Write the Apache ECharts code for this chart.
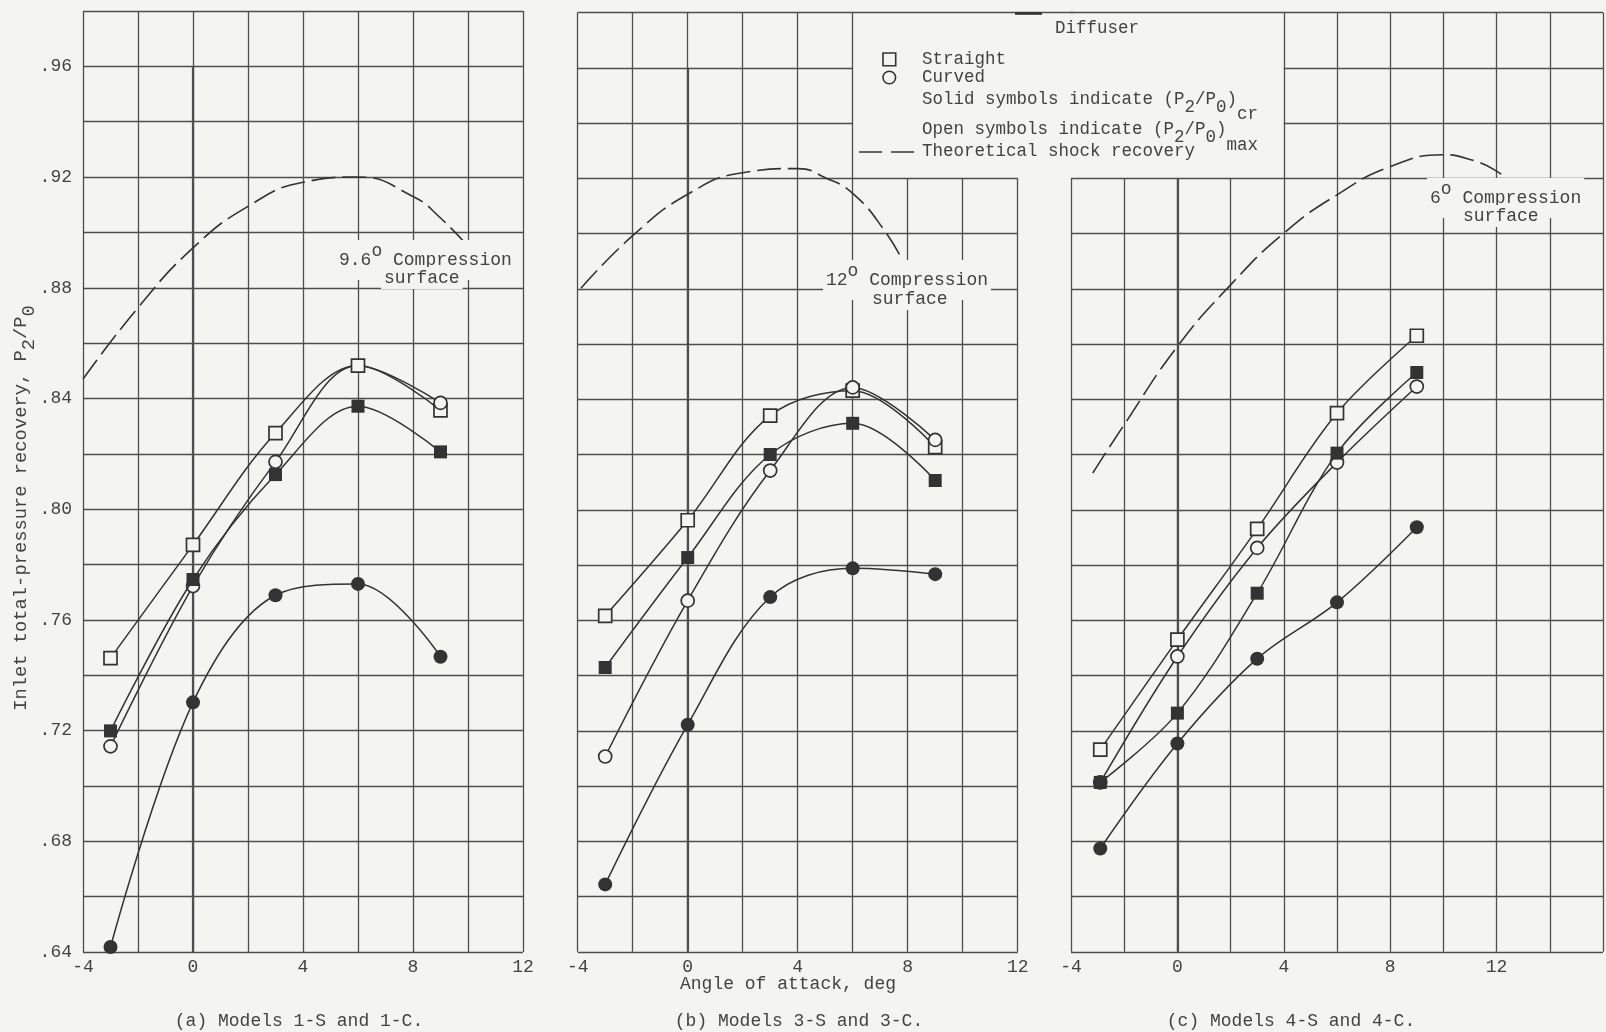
<!DOCTYPE html>
<html>
<head>
<meta charset="utf-8">
<script src="https://cdn.jsdelivr.net/npm/echarts@6/dist/echarts.min.js"></script>
<style>
  html, body { margin: 0; padding: 0; background: #f4f4f1; }
  #chart { width: 1606px; height: 1032px; }
</style>
</head>
<body>
<div id="chart"></div>
<script>
// ---- Angles of attack (deg) ----
const alphaA = [-3, 0, 3, 6, 9];
const alphaB = [-3, 0, 3, 6, 9];
const alphaC = [-2.9, 0, 3, 6, 9];

// ---- (a) Models 1-S and 1-C ----
const straightMaxA = [0.7462, 0.7871, 0.8275, 0.8519, 0.8357];
const straightCrA  = [0.7199, 0.7746, 0.8125, 0.8372, 0.8207];
const curvedMaxA   = [0.7143, 0.7722, 0.8171, 0.8519, 0.8384];
const curvedCrA    = [0.6418, 0.7302, 0.7689, 0.7730, 0.7467];
const theoryAlphaA = [-4, -2, 0, 2, 4, 6, 8, 9, 10];
const theoryA      = [0.847, 0.8728, 0.8944, 0.9094, 0.9181, 0.9200, 0.9130, 0.9052, 0.8950];

// ---- (b) Models 3-S and 3-C ----
const straightMaxB = [0.7616, 0.7962, 0.8341, 0.8431, 0.8227];
const straightCrB  = [0.7429, 0.7827, 0.8200, 0.8313, 0.8106];
const curvedMaxB   = [0.7107, 0.7671, 0.8142, 0.8443, 0.8253];
const curvedCrB    = [0.6644, 0.7222, 0.7684, 0.7788, 0.7767];
const theoryAlphaB = [-3.88, -2, 0, 2, 4, 5, 6, 7.16, 7.95];
const theoryB      = [0.8802, 0.8992, 0.9142, 0.9220, 0.9235, 0.9202, 0.9145, 0.9010, 0.8877];

// ---- (c) Models 4-S and 4-C ----
const straightMaxC = [0.7132, 0.7530, 0.7931, 0.8350, 0.8630];
const straightCrC  = [0.7013, 0.7264, 0.7698, 0.8205, 0.8497];
const curvedMaxC   = [0.7013, 0.7469, 0.7862, 0.8171, 0.8446];
const curvedCrC    = [0.6774, 0.7154, 0.7461, 0.7665, 0.7937];
const theoryAlphaC = [-3.18, -2, 0, 2, 4, 6, 8, 10, 11, 12, 12.46];
const theoryC      = [0.8133, 0.8308, 0.8591, 0.8814, 0.9001, 0.9140, 0.9242, 0.9285, 0.9268, 0.9226, 0.9188];

// Points whose symbol sits under another model's symbol (same value), per series
const hiddenCurvedMaxA = [6];

// ---- Axis ticks ----
const xLabelStep = 4;            // labelled every 4 deg
const xGridStep = 2;             // ruled every 2 deg
const yLabelStep = 0.04;         // labelled every .04
const yGridStep = 0.02;          // ruled every .02
const yMin = 0.64, yMax = 0.98;
const xMin = -4, xMaxAB = 12, xMaxC = 16;

const FONT = '"Liberation Mono", "Courier New", monospace';
const INK = '#333333';
const TEXT = '#434343';
const RULE = '#4e4e4e';
const PAPER = '#f4f4f1';

function range(a, b, step) {
  const out = [];
  const n = Math.round((b - a) / step);
  for (let i = 0; i <= n; i++) out.push(Math.round((a + i * step) * 1000) / 1000);
  return out;
}

// Ruled grid for one panel; the key block cuts away the top of (b) and (c)
function ruling(xs, ys, vSpan, hSpan) {
  const segs = [];
  xs.forEach(x => { const s = vSpan(x); if (s) segs.push([[x, s[0]], [x, s[1]]]); });
  ys.forEach(y => { const s = hSpan(y); if (s) segs.push([[s[0], y], [s[1], y]]); });
  return segs;
}
const ysAll = range(yMin, yMax, yGridStep);
const rulingA = ruling(range(xMin, xMaxAB, xGridStep), ysAll,
  () => [yMin, yMax], () => [xMin, xMaxAB]);
const rulingB = ruling(range(xMin, xMaxAB, xGridStep), ysAll,
  x => x <= 6 ? [yMin, yMax] : [yMin, 0.92],
  y => y <= 0.92 ? [xMin, xMaxAB] : (y < 0.97 ? [xMin, 6] : [xMin, 14]));
const rulingC = ruling(range(xMin, xMaxC, xGridStep), ysAll,
  x => x < 4 ? [yMin, 0.92] : [yMin, yMax],
  y => y <= 0.92 ? [xMin, xMaxC] : (y < 0.97 ? [4, xMaxC] : [xMin, xMaxC]));
const zeroLines = [[[0, yMin], [0, 0.96]], [[0, yMin], [0, 0.96]], [[0, yMin], [0, 0.92]]];

function pts(xs, ys, hidden) {
  return xs.map((x, i) => (hidden && hidden.indexOf(x) >= 0)
    ? { value: [x, ys[i]], symbol: 'none' }
    : [x, ys[i]]);
}

function rulingSeries(i, segs, width) {
  return {
    type: 'lines', coordinateSystem: 'cartesian2d', xAxisIndex: i, yAxisIndex: i,
    polyline: false, silent: true, clip: false, z: 1, animation: false,
    lineStyle: { color: RULE, width: width, opacity: 1, curveness: 0 },
    data: segs.map(s => ({ coords: s }))
  };
}

function pointSeries(i, name, xs, ys, symbol, solid, hidden) {
  return {
    type: 'line', name: name, xAxisIndex: i, yAxisIndex: i,
    data: pts(xs, ys, hidden), smooth: 0.35, symbol: symbol,
    symbolSize: symbol === 'rect' ? 13 : (solid ? 14 : 13),
    showAllSymbol: true, silent: true, animation: false, z: solid ? 4 : 3,
    lineStyle: { color: INK, width: 1.5 },
    itemStyle: { color: solid ? INK : PAPER, borderColor: INK, borderWidth: solid ? 0 : 1.7 }
  };
}

function theorySeries(i, xs, ys) {
  return {
    type: 'line', name: 'Theoretical shock recovery', xAxisIndex: i, yAxisIndex: i,
    data: pts(xs, ys), smooth: 0.5, symbol: 'none', silent: true, animation: false, z: 2,
    lineStyle: { color: INK, width: 1.6, type: [24, 7] }
  };
}

function panelSeries(i, xs, sMax, sCr, cMax, cCr, tx, ty, hiddenCMax) {
  return [
    theorySeries(i, tx, ty),
    pointSeries(i, 'Straight (P2/P0)max', xs, sMax, 'rect', false),
    pointSeries(i, 'Curved (P2/P0)max', xs, cMax, 'circle', false, hiddenCMax),
    pointSeries(i, 'Straight (P2/P0)cr', xs, sCr, 'rect', true),
    pointSeries(i, 'Curved (P2/P0)cr', xs, cCr, 'circle', true)
  ];
}

const richStyles = {
  sub: { fontFamily: FONT, fontSize: 18.8, padding: [16, 0, 0, 0] },
  sup: { fontFamily: FONT, fontSize: 18, padding: [0, 0, 18, 0] },
  lsub: { fontFamily: FONT, fontSize: 17.5, padding: [16, 0, 0, 0] },
  lsub2: { fontFamily: FONT, fontSize: 17.5, padding: [31, 0, 0, 0] }
};

function label(x, y, text, opts) {
  opts = opts || {};
  return {
    type: 'text', x: x, y: y, rotation: opts.rotation || 0, silent: true, z: 10,
    style: {
      text: text, fill: TEXT, fontFamily: FONT, fontSize: opts.size || 18,
      align: opts.align || 'left', verticalAlign: 'middle',
      textAlign: opts.align || 'left', textVerticalAlign: 'middle',
      rich: richStyles,
      backgroundColor: opts.bg ? PAPER : null,
      padding: opts.bg ? [2, 3, 2, 3] : 0
    }
  };
}

const chart = echarts.init(document.getElementById('chart'), null, { renderer: 'canvas' });

const grids = [
  { left: 83, top: 11, width: 440, height: 941 },
  { left: 577.7, top: 12.5, width: 440, height: 939.3 },
  { left: 1071, top: 12.5, width: 548, height: 939.3 }
];

const option = {
  backgroundColor: PAPER,
  animation: false,
  grid: grids,
  xAxis: grids.map((g, i) => ({
    gridIndex: i, type: 'value', min: xMin, max: i === 2 ? xMaxC : xMaxAB, interval: xLabelStep,
    axisLine: { show: false }, axisTick: { show: false }, splitLine: { show: false },
    axisLabel: {
      margin: 6, fontFamily: FONT, fontSize: 18, color: TEXT,
      formatter: v => (v > xMaxAB ? '' : String(v))
    }
  })),
  yAxis: grids.map((g, i) => ({
    gridIndex: i, type: 'value', min: yMin, max: yMax, interval: yLabelStep,
    axisLine: { show: false }, axisTick: { show: false }, splitLine: { show: false },
    axisLabel: {
      show: i === 0, margin: 11, fontFamily: FONT, fontSize: 18, color: TEXT,
      formatter: v => (v > 0.965 ? '' : v.toFixed(2).slice(1))
    }
  })),
  series: [
    rulingSeries(0, rulingA, 1.3),
    rulingSeries(1, rulingB, 1.3),
    rulingSeries(2, rulingC, 1.3),
    rulingSeries(0, [zeroLines[0]], 2.2),
    rulingSeries(1, [zeroLines[1]], 2.2),
    rulingSeries(2, [zeroLines[2]], 2.2),
    ...panelSeries(0, alphaA, straightMaxA, straightCrA, curvedMaxA, curvedCrA, theoryAlphaA, theoryA, hiddenCurvedMaxA),
    ...panelSeries(1, alphaB, straightMaxB, straightCrB, curvedMaxB, curvedCrB, theoryAlphaB, theoryB),
    ...panelSeries(2, alphaC, straightMaxC, straightCrC, curvedMaxC, curvedCrC, theoryAlphaC, theoryC)
  ],
  graphic: [
    // axis titles and panel captions
    { type: 'text', x: 21, y: 508, rotation: Math.PI / 2, silent: true, z: 10,
      style: { text: 'Inlet total-pressure recovery, P{sub|2}/P{sub|0}', fill: TEXT,
        fontFamily: FONT, fontSize: 18.8, align: 'center', verticalAlign: 'middle',
        textAlign: 'center', textVerticalAlign: 'middle', rich: richStyles } },
    label(788, 984, 'Angle of attack, deg', { align: 'center' }),
    label(299, 1021, '(a) Models 1-S and 1-C.', { align: 'center' }),
    label(799, 1021, '(b) Models 3-S and 3-C.', { align: 'center' }),
    label(1291, 1021, '(c) Models 4-S and 4-C.', { align: 'center' }),
    // compression-surface notes on the theoretical curves
    label(336, 260, '9.6{sup|o} Compression', { bg: true }),
    label(381, 278, 'surface', { bg: true }),
    label(823, 280, '12{sup|o} Compression', { bg: true }),
    label(869, 299, 'surface', { bg: true }),
    label(1427, 198, '6{sup|o} Compression', { bg: true }),
    label(1460, 216, 'surface', { bg: true }),
    // key
    label(1097, 28, 'Diffuser', { align: 'center', size: 17.5 }),
    { type: 'line', silent: true, z: 10, shape: { x1: 1015, y1: 13.5, x2: 1042, y2: 13.5 },
      style: { stroke: INK, lineWidth: 2.6 } },
    { type: 'rect', silent: true, z: 10, shape: { x: 883, y: 53, width: 12.7, height: 12.7 },
      style: { fill: PAPER, stroke: INK, lineWidth: 1.6 } },
    { type: 'circle', silent: true, z: 10, shape: { cx: 889.3, cy: 77.5, r: 6.3 },
      style: { fill: PAPER, stroke: INK, lineWidth: 1.6 } },
    label(922, 59.5, 'Straight', { size: 17.5 }),
    label(922, 77.5, 'Curved', { size: 17.5 }),
    label(922, 99, 'Solid symbols indicate (P{lsub|2}/P{lsub|0}){lsub2|cr}', { size: 17.5 }),
    label(922, 129.5, 'Open symbols indicate (P{lsub|2}/P{lsub|0}){lsub2|max}', { size: 17.5 }),
    { type: 'line', silent: true, z: 10, shape: { x1: 859, y1: 152, x2: 920, y2: 152 },
      style: { stroke: INK, lineWidth: 1.6, lineDash: [23, 9] } },
    label(922, 151, 'Theoretical shock recovery', { size: 17.5 })
  ]
};

chart.setOption(option);
</script>
</body>
</html>
